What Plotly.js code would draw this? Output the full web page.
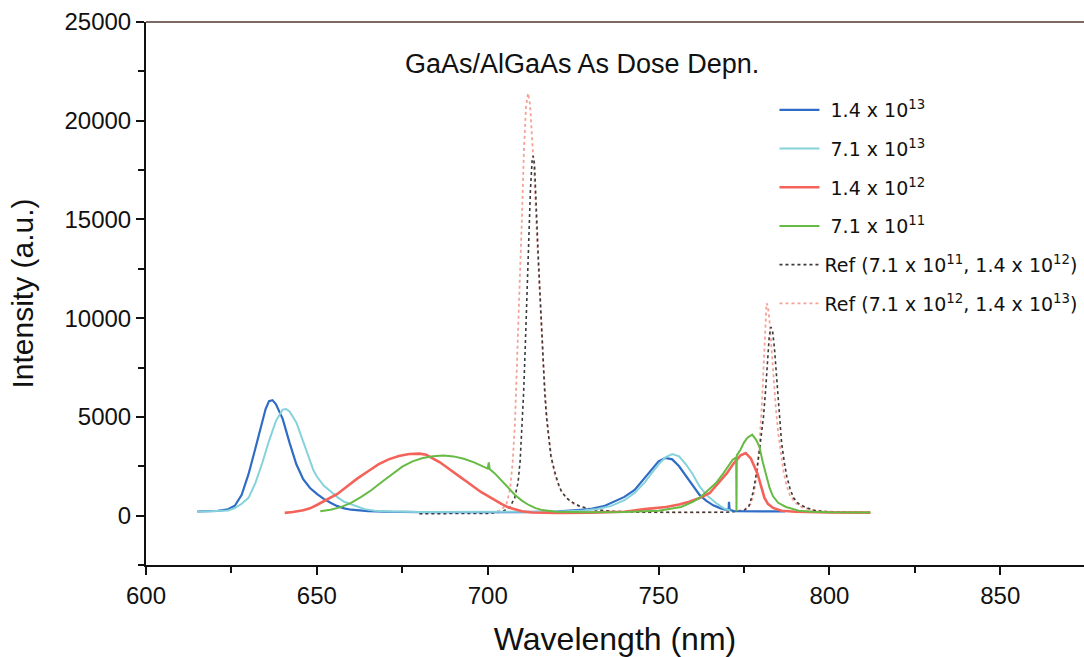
<!DOCTYPE html>
<html>
<head>
<meta charset="utf-8">
<script src="https://cdn.plot.ly/plotly-3.0.1.min.js"></script>
<style>html,body{margin:0;padding:0;background:#fff;}#chart{width:1084px;height:657px;}</style>
</head>
<body>
<div id="chart"></div>
<script>
// ---- Data ----
const blueX = [615,618,621,624,626,628,630,632,634,635,636,637,638,640,642,644,646,648,650,652,654,656,658,660,665,670,680,690,700,710,720,726,730,734,737,740,743,746,748,750,752,754,756,758,760,762,764,766,768,769.5,770.5,770.6,770.8,772,780,787];
const blueY = [210,220,240,320,500,1050,2100,3400,4800,5400,5800,5850,5650,4900,3700,2600,1850,1400,1100,850,650,480,370,300,230,200,180,170,170,180,200,260,330,480,700,950,1300,1900,2350,2750,2920,2850,2500,2000,1500,1050,750,520,380,300,300,700,300,230,220,220];

const cyanX = [615,620,624,626,628,630,632,634,636,638,640,641,642,644,646,648,649,650,651,652,654,656,658,661,664,667,672,680,700,720,728,732,736,740,743,746,748,750,752,754,756,758,760,762,764,766.8,769,771];
const cyanY = [200,220,260,380,600,900,1650,2650,3790,4790,5370,5400,5280,4720,3750,2700,2300,1980,1720,1520,1230,940,700,500,330,250,210,190,180,200,260,340,480,780,1150,1700,2150,2600,2950,3120,3000,2600,2100,1480,1050,640,380,250];

const redX = [640.6,643,646,648,650,653,656,659,662,665,668,671,674,677,680,682,684,686,688,690,692,694,696,698,700,702,704,706,708,710,713,720,730,740,746,750,752.2,756,759,762,765,766,768,770,772,774,775.5,777,778,779,780,781,782,783.5,786,790,800,812];
const redY = [140,180,270,370,540,800,1100,1500,1900,2250,2600,2850,3020,3120,3140,3080,2900,2700,2450,2220,1950,1700,1450,1200,1000,780,600,420,300,220,160,140,150,200,330,400,440,560,700,895,1150,1350,1750,2150,2650,3050,3170,2900,2500,2100,1500,900,600,390,250,200,160,150];

const greenX = [651,654,657,660,663,666,669,672,675,678,681,684,687,690,693,696,699,700,700.3,700.6,702,704,706,708,710,712,714,716,720,730,740,750,756.6,760,762,764,766.8,769,771.7,772.7,772.8,772.9,774,775,776,777.4,778.5,779.5,780.5,781.5,782.5,783.5,785,787.3,791,795,800,812];
const greenY = [220,300,430,650,950,1300,1700,2100,2480,2750,2920,3010,3040,3000,2880,2700,2450,2380,2700,2350,2150,1800,1400,1050,760,540,380,280,200,170,180,250,440,700,900,1200,1650,2150,2830,2950,220,3050,3350,3700,3950,4100,3850,3500,2700,1990,1400,980,650,440,250,200,170,160];

const ref1X = [680,690,700,704,706.4,707.9,708.9,709.5,710,710.5,711,711.5,712,712.5,713,713.3,713.7,714.2,714.7,715.2,715.7,716.2,716.7,717.2,717.8,718.5,719.5,720.5,721.5,723,724.5,727,731,736,745,760,770,775,776.5,777.6,778.5,779.3,780,780.7,781.3,781.9,782.4,782.9,783.4,783.9,784.5,785,785.5,786,786.8,787.5,788.5,789.5,791,793.2,796,800,806,812];
const ref1Y = [100,100,110,180,400,900,1700,2800,4200,6200,8600,11200,14000,16500,18000,18220,17800,16000,13500,11600,9800,7800,6200,5000,3900,3000,2300,1700,1250,900,700,470,300,220,170,150,170,250,500,1150,2000,3000,4000,5000,6300,8000,9100,9550,9300,8500,7000,5800,4800,3700,2700,2000,1350,900,600,400,250,190,160,150];

const ref2X = [680,695,702,704,705.5,706.5,707.3,708,708.7,709.3,710,710.6,711.2,711.8,712.4,713,713.7,714.3,715,715.7,716.4,717.1,717.8,718.6,719.6,721,723,725.5,729,735,745,760,770,775,777,778,778.8,779.5,780.2,780.8,781.2,781.6,782,782.5,783,783.6,784.3,785,785.8,786.6,787.5,788.5,790,792,795,800,812];
const ref2Y = [120,130,170,300,600,1300,2700,4800,8000,11500,15000,18500,20700,21390,20800,19200,17000,14500,12000,9500,7300,5500,4100,3000,2100,1400,900,550,350,230,170,150,180,280,600,1200,2200,3600,5500,7800,9600,10760,10600,9800,8600,7000,5500,4200,3100,2200,1500,1000,650,420,280,200,160];

const seriesNames = [
  '\u00a01.4 x 10<sup>13</sup>',
  '\u00a07.1 x 10<sup>13</sup>',
  '\u00a01.4 x 10<sup>12</sup>',
  '\u00a07.1 x 10<sup>11</sup>',
  'Ref (7.1 x 10<sup>11</sup>, 1.4 x 10<sup>12</sup>)',
  'Ref (7.1 x 10<sup>12</sup>, 1.4 x 10<sup>13</sup>)'
];
const xTicks = [600,650,700,750,800,850];
const yTicks = [0,5000,10000,15000,20000,25000];

// ---- Traces ----
const traces = [
  {x: ref2X, y: ref2Y, name: seriesNames[5], legendrank: 6, legendgroup: 'g6', mode: 'lines',
   line: {color: '#f3a397', width: 1.8, dash: 'dot'}},
  {x: ref1X, y: ref1Y, name: seriesNames[4], legendrank: 5, legendgroup: 'g5', mode: 'lines',
   line: {color: '#3a3a3a', width: 1.6, dash: 'dot'}},
  {x: blueX, y: blueY, name: seriesNames[0], legendrank: 1, legendgroup: 'g1', mode: 'lines',
   line: {color: '#2f6cc6', width: 2.2}},
  {x: cyanX, y: cyanY, name: seriesNames[1], legendrank: 2, legendgroup: 'g2', mode: 'lines',
   line: {color: '#86d2dc', width: 2}},
  {x: redX, y: redY, name: seriesNames[2], legendrank: 3, legendgroup: 'g3', mode: 'lines',
   line: {color: '#f4635a', width: 2.6}},
  {x: greenX, y: greenY, name: seriesNames[3], legendrank: 4, legendgroup: 'g4', mode: 'lines',
   line: {color: '#66bb44', width: 2}}
];

const tickFont = {family: 'Liberation Sans, Arial, sans-serif', size: 24, color: '#111'};

const layout = {
  width: 1084, height: 657,
  margin: {l: 146, r: 0, t: 22, b: 92},
  paper_bgcolor: '#fff', plot_bgcolor: '#fff',
  showlegend: true,
  title: {text: 'GaAs/AlGaAs As Dose Depn.', x: 0.537, xanchor: 'center', y: 0.903, yanchor: 'middle',
          font: {family: 'Liberation Sans, Arial, sans-serif', size: 27, color: '#111'}},
  xaxis: {
    range: [600, 874.5], tickvals: xTicks, ticktext: xTicks.map(String),
    showgrid: false, zeroline: false, showline: true, linecolor: '#111', linewidth: 2,
    ticks: 'outside', ticklen: 8, tickwidth: 2, tickcolor: '#111',
    minor: {dtick: 25, tick0: 600, ticks: 'outside', ticklen: 6, tickwidth: 2, tickcolor: '#111'},
    tickfont: tickFont,
    title: {text: 'Wavelength (nm)', standoff: 20, font: {family: 'Liberation Sans, Arial, sans-serif', size: 32, color: '#111'}}
  },
  yaxis: {
    range: [-2500, 25000], tickvals: yTicks, ticktext: yTicks.map(String),
    showgrid: false, zeroline: false, showline: true, linecolor: '#111', linewidth: 2,
    ticks: 'outside', ticklen: 8, tickwidth: 2, tickcolor: '#111',
    minor: {dtick: 2500, tick0: 0, ticks: 'outside', ticklen: 6, tickwidth: 2, tickcolor: '#111'},
    tickfont: tickFont,
    title: {text: 'Intensity (a.u.)', standoff: 22, font: {family: 'Liberation Sans, Arial, sans-serif', size: 30, color: '#111'}}
  },
  legend: {
    x: 0.67, y: 0.873, xanchor: 'left', yanchor: 'top',
    bgcolor: 'rgba(0,0,0,0)', borderwidth: 0,
    font: {family: 'DejaVu Sans, sans-serif', size: 19, color: '#111'},
    tracegroupgap: 11, itemwidth: 40, traceorder: 'grouped'
  },
  shapes: [
    {type: 'line', xref: 'paper', yref: 'paper', x0: 0, x1: 1, y0: 1, y1: 1,
     line: {color: '#7d6a64', width: 2}}
  ]
};

Plotly.newPlot('chart', traces, layout, {displayModeBar: false, staticPlot: true});
</script>
</body>
</html>
